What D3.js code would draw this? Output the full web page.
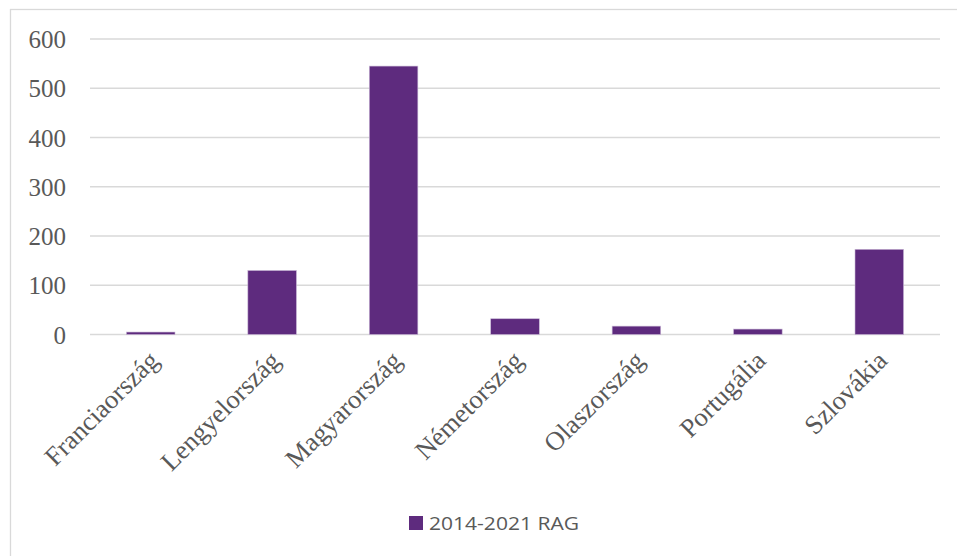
<!DOCTYPE html>
<html>
<head>
<meta charset="utf-8">
<script src="https://cdn.jsdelivr.net/npm/d3@7"></script>
<style>
  html, body { margin: 0; padding: 0; background: #fff; }
  svg { display: block; }
</style>
</head>
<body>
<div id="chart"></div>
<script>
// Data
const countries = ['Franciaország', 'Lengyelország', 'Magyarország', 'Németország', 'Olaszország', 'Portugália', 'Szlovákia']
const ragValues = [5, 130, 545, 32, 17, 11, 173]
const yTicks = [0, 100, 200, 300, 400, 500, 600]
const seriesName = '2014-2021 RAG'

const W = 957
const H = 556
const COLORS = { bar: '#5e2b7e', grid: '#d9d9d9', text: '#595959', frame: '#d9d9d9' }
const SERIF = '"Liberation Serif", "Times New Roman", serif'
const plot = { left: 90, right: 940, top: 39, bottom: 334.5 }

const svg = d3.select('#chart').append('svg').attr('width', W).attr('height', H)

// Chart frame (right and bottom edges run off the page)
svg.append('rect')
  .attr('x', 10.5).attr('y', 9.5)
  .attr('width', 980).attr('height', 600)
  .attr('fill', '#fff')
  .attr('stroke', COLORS.frame)
  .attr('stroke-width', 1.3)

const x = d3.scaleBand().domain(countries).range([plot.left, plot.right]).paddingInner(0.6).paddingOuter(0.3)
const y = d3.scaleLinear().domain([0, 600]).range([plot.bottom, plot.top])

// Gridlines
svg.append('g')
  .selectAll('line')
  .data(yTicks)
  .join('line')
  .attr('x1', plot.left)
  .attr('x2', plot.right)
  .attr('y1', d => y(d))
  .attr('y2', d => y(d))
  .attr('stroke', COLORS.grid)
  .attr('stroke-width', 1.5)

// Y axis labels
const yAxis = svg.append('g')
  .attr('transform', `translate(${plot.left - 24},0)`)
  .call(d3.axisLeft(y).tickValues(yTicks).tickSize(0).tickPadding(0))
yAxis.attr('font-family', SERIF).attr('font-size', 25)
yAxis.select('.domain').remove()
yAxis.selectAll('text')
  .attr('fill', COLORS.text)
  .attr('dy', '0.34em')

// Bars
svg.append('g')
  .selectAll('rect')
  .data(countries.map((c, i) => ({ c, v: ragValues[i] })))
  .join('rect')
  .attr('x', d => x(d.c))
  .attr('width', x.bandwidth())
  .attr('y', d => y(d.v))
  .attr('height', d => y(0) - y(d.v))
  .attr('fill', COLORS.bar)
  .attr('stroke', '#c9b8d6')
  .attr('stroke-width', 0.6)

// X axis labels, rotated
const xAxis = svg.append('g')
  .attr('transform', `translate(0,${plot.bottom + 14})`)
  .call(d3.axisBottom(x).tickSize(0).tickPadding(0))
xAxis.attr('font-family', SERIF).attr('font-size', 26.5)
xAxis.select('.domain').remove()
xAxis.selectAll('text')
  .attr('fill', COLORS.text)
  .attr('text-anchor', 'end')
  .attr('dy', '0.35em')
  .attr('transform', 'translate(3,7) rotate(-45)')

// Legend
const legend = svg.append('g').attr('transform', 'translate(409,516)')
legend.append('rect')
  .attr('width', 14).attr('height', 14)
  .attr('fill', COLORS.bar)
legend.append('text')
  .attr('x', 20).attr('y', 7)
  .attr('dy', '0.36em')
  .attr('fill', COLORS.text)
  .attr('font-family', '"Open Sans", "Noto Sans", sans-serif')
  .attr('font-size', 18.5)
  .attr('textLength', 150)
  .attr('lengthAdjust', 'spacingAndGlyphs')
  .text(seriesName)
</script>
</body>
</html>
